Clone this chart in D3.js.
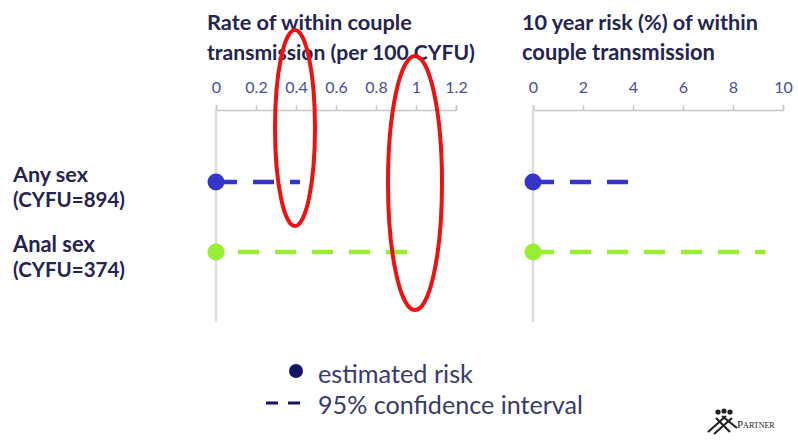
<!DOCTYPE html>
<html>
<head>
<meta charset="utf-8">
<script src="https://cdn.jsdelivr.net/npm/d3@7"></script>
<style>
  html, body { margin: 0; padding: 0; background: #fff; }
  svg { display: block; font-family: Lato, "Open Sans", sans-serif; }
</style>
</head>
<body>
<svg id="chart" width="798" height="443"></svg>
<script>
// Groups and their follow-up
const groups = ["Any sex", "Anal sex"];
const groupNotes = ["(CYFU=894)", "(CYFU=374)"];
const groupColors = ["#3535c8", "#98ee33"];

// Panel 1: rate per 100 CYFU (point estimate, upper 95% limit)
const rateEstimate = [0, 0];
const rateUpper = [0.42, 1.01];
const rateTicks = [0, 0.2, 0.4, 0.6, 0.8, 1, 1.2];

// Panel 2: 10 year risk (%)
const riskEstimate = [0, 0];
const riskUpper = [4.05, 9.3];
const riskTicks = [0, 2, 4, 6, 8, 10];

// Highlighted rate values
const highlightRates = [0.4, 1.0];

const svg = d3.select("#chart");
const navy = "#24244f";
const tickBlue = "#4b4ba3";

// size a text element so that it spans the given width
function fit(sel, width) {
  const base = parseFloat(sel.attr("font-size"));
  const len = sel.node().getComputedTextLength();
  if (len > 0) sel.attr("font-size", (base * width / len).toFixed(2));
  return sel;
}

const y = d3.scalePoint().domain(groups).range([182, 252]);

function panel(opts) {
  const x = d3.scaleLinear().domain(opts.domain).range(opts.range);
  const g = svg.append("g");

  // two-line title
  opts.title.forEach((line, i) => {
    const t = g.append("text")
      .attr("x", opts.titleX).attr("y", 30 + i * 30)
      .attr("fill", navy).attr("font-weight", "bold").attr("font-size", 20)
      .text(line);
    fit(t, opts.titleWidths[i]);
  });

  // top axis
  const axis = d3.axisTop(x).tickValues(opts.ticks).tickSize(5).tickPadding(12)
    .tickFormat(d3.format("~g"));
  const ag = g.append("g").attr("transform", "translate(0,110)").call(axis);
  ag.select(".domain").attr("stroke", "#c8c8c8").attr("stroke-width", 1.5);
  ag.selectAll(".tick line").attr("stroke", "#c8c8c8").attr("stroke-width", 1.5);
  ag.selectAll(".tick text").attr("fill", tickBlue).attr("font-size", 16)
    .attr("font-family", "Lato, 'Open Sans', sans-serif");

  // vertical zero line
  g.append("line")
    .attr("x1", x(0)).attr("x2", x(0)).attr("y1", 110).attr("y2", 322)
    .attr("stroke", "#dddddd").attr("stroke-width", 2.5);

  // confidence intervals
  g.selectAll("line.ci").data(groups).join("line")
    .attr("class", "ci")
    .attr("x1", (d, i) => x(opts.est[i]))
    .attr("x2", (d, i) => x(opts.upper[i]))
    .attr("y1", d => y(d)).attr("y2", d => y(d))
    .attr("stroke", (d, i) => groupColors[i])
    .attr("stroke-width", 4.5)
    .attr("stroke-dasharray", "21 16")
    .attr("stroke-dashoffset", (d, i) => opts.offsets[i]);

  // point estimates
  g.selectAll("circle.est").data(groups).join("circle")
    .attr("class", "est")
    .attr("cx", (d, i) => x(opts.est[i]))
    .attr("cy", d => y(d))
    .attr("r", 8.5)
    .attr("fill", (d, i) => groupColors[i]);
  return x;
}

const xRate = panel({
  domain: [0, 1.2], range: [216, 456], ticks: rateTicks,
  est: rateEstimate, upper: rateUpper, offsets: [0, 15],
  titleX: 207, title: ["Rate of within couple", "transmission (per 100 CYFU)"],
  titleWidths: [205, 268]
});

panel({
  domain: [0, 10], range: [533, 783], ticks: riskTicks,
  est: riskEstimate, upper: riskUpper, offsets: [0, 0],
  titleX: 522, title: ["10 year risk (%) of within", "couple transmission"],
  titleWidths: [236, 193]
});

// group labels
const lab = svg.append("g").attr("fill", navy).attr("font-weight", "bold");
const nameWidths = [75, 82];
groups.forEach((gname, i) => {
  fit(lab.append("text").attr("x", 13).attr("y", y(gname)).attr("font-size", 17).text(gname), nameWidths[i]);
  fit(lab.append("text").attr("x", 13).attr("y", y(gname) + 25).attr("font-size", 17).text(groupNotes[i]), 112);
});

// red highlight ellipses
const ellipseSpec = [{cy: 128, rx: 20, ry: 98}, {cy: 183, rx: 27, ry: 127}];
svg.selectAll("ellipse.mark").data(highlightRates).join("ellipse")
  .attr("class", "mark")
  .attr("cx", d => xRate(d) - 1)
  .attr("cy", (d, i) => ellipseSpec[i].cy)
  .attr("rx", (d, i) => ellipseSpec[i].rx)
  .attr("ry", (d, i) => ellipseSpec[i].ry)
  .attr("fill", "none").attr("stroke", "#ee1111").attr("stroke-width", 4);

// legend
const leg = svg.append("g");
leg.append("circle").attr("cx", 296).attr("cy", 371).attr("r", 7).attr("fill", "#151565");
fit(leg.append("text").attr("x", 318).attr("y", 383).attr("font-size", 23)
  .attr("fill", "#3a3a6a").text("estimated risk"), 155);
leg.append("line").attr("x1", 266).attr("x2", 302).attr("y1", 403).attr("y2", 403)
  .attr("stroke", "#151565").attr("stroke-width", 3).attr("stroke-dasharray", "12 10");
fit(leg.append("text").attr("x", 318).attr("y", 414).attr("font-size", 23)
  .attr("fill", "#3a3a6a").text("95% confidence interval"), 265);

// PARTNER logo
const logo = svg.append("g").attr("fill", "#222").attr("stroke", "#222");
[[718, 412], [724, 411], [730, 412]].forEach(([cx, cy]) => {
  logo.append("circle").attr("cx", cx).attr("cy", cy).attr("r", 2.6).attr("stroke", "none");
});
[[708, 432, 726, 416], [714, 434, 732, 418], [716, 418, 730, 432], [722, 416, 737, 428]].forEach(([a, b, c, d]) => {
  logo.append("line").attr("x1", a).attr("y1", b).attr("x2", c).attr("y2", d).attr("stroke-width", 2.2);
});
logo.append("text").attr("x", 737).attr("y", 428).attr("stroke", "none")
  .attr("font-family", "'Liberation Serif', serif").attr("font-size", 11)
  .attr("font-variant", "small-caps").text("Partner");
</script>
</body>
</html>
